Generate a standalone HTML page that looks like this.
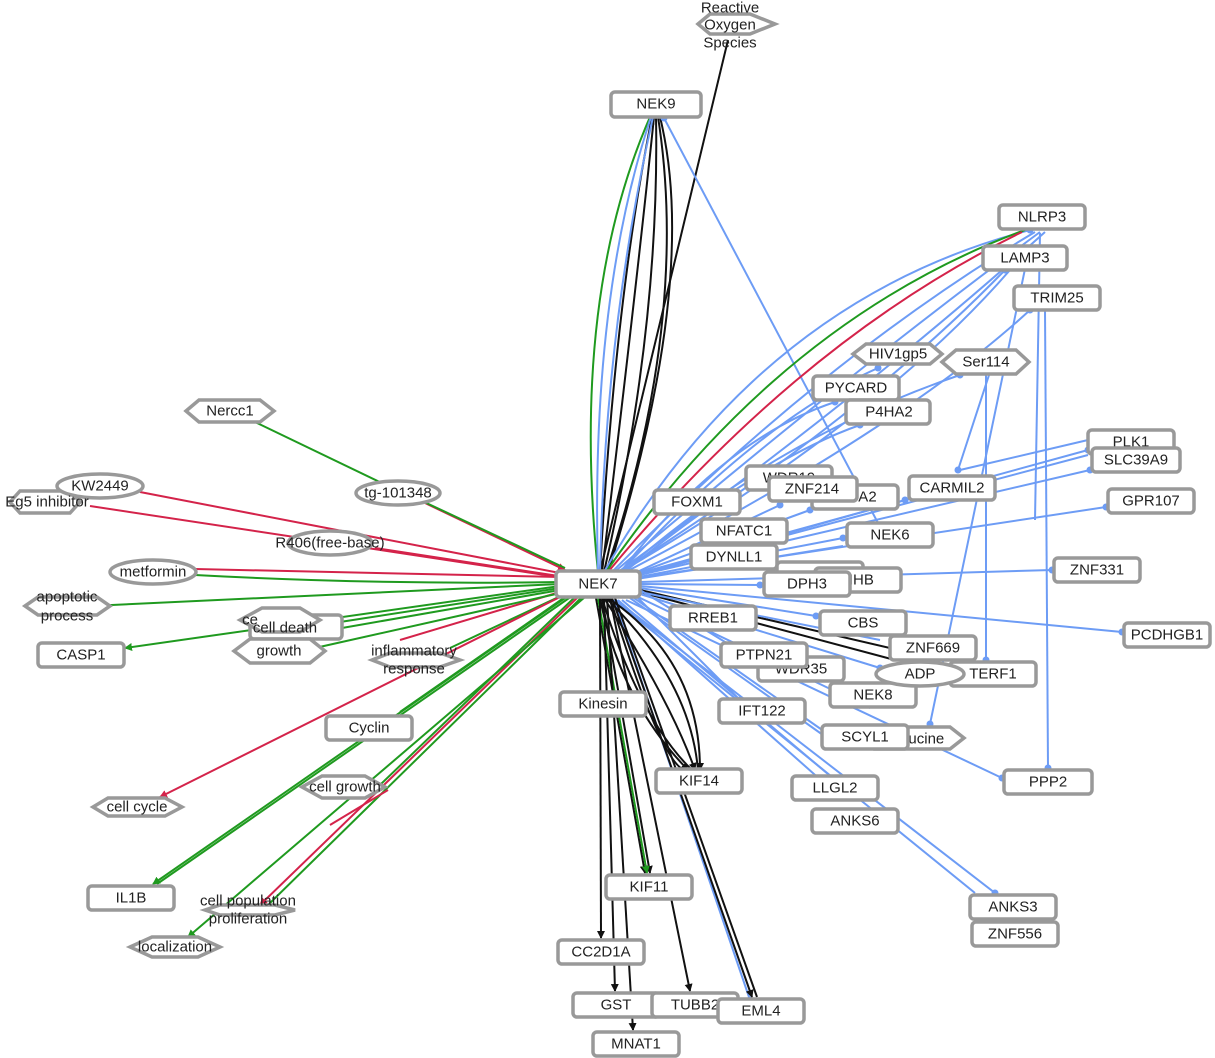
<!DOCTYPE html>
<html><head><meta charset="utf-8"><style>
body{margin:0;background:#fff}
svg{display:block}
text{font-family:"Liberation Sans",sans-serif;font-size:15px;fill:#222;text-anchor:middle;dominant-baseline:central}
.n{fill:#fff;stroke:#999;stroke-width:3.5}
.b{stroke:#6d9cf5;stroke-width:2;fill:none}
.g{stroke:#1f9a1f;stroke-width:2;fill:none}
.r{stroke:#d4234a;stroke-width:2;fill:none}
.k{stroke:#111;stroke-width:2;fill:none}
</style></head><body>
<svg width="1215" height="1058" viewBox="0 0 1215 1058" xmlns="http://www.w3.org/2000/svg">
<defs>
<marker id="ak" markerWidth="8" markerHeight="8" refX="7" refY="4" orient="auto" markerUnits="userSpaceOnUse"><path d="M0,0 L8,4 L0,8z" fill="#111"/></marker>
<marker id="ag" markerWidth="8" markerHeight="8" refX="7" refY="4" orient="auto" markerUnits="userSpaceOnUse"><path d="M0,0 L8,4 L0,8z" fill="#1f9a1f"/></marker>
<marker id="ar" markerWidth="8" markerHeight="8" refX="7" refY="4" orient="auto" markerUnits="userSpaceOnUse"><path d="M0,0 L8,4 L0,8z" fill="#d4234a"/></marker>
<marker id="db" markerWidth="8" markerHeight="8" refX="4" refY="4" markerUnits="userSpaceOnUse"><circle cx="4" cy="4" r="3.5" fill="#6d9cf5"/></marker>
</defs>

<!-- left side edges -->
<g>
<path class="g" d="M255,422 L390,487"/>
<path class="r" d="M140,492 L565,574" marker-end="url(#ar)"/>
<path class="r" d="M90,506 L565,578" marker-end="url(#ar)"/>
<path class="r" d="M375,548 L565,577"/>
<path class="r" d="M425,503 L565,570" marker-end="url(#ar)"/>
<path class="g" d="M420,500 L565,568"/>
<path class="r" d="M195,569 L560,577"/>
<path class="g" d="M195,575 Q380,585 560,582"/>
<path class="g" d="M560,584 L90,606" marker-end="url(#ag)"/>
<path class="g" d="M560,586 L125,648" marker-end="url(#ag)"/>
<path class="g" d="M560,588 L340,622"/>
<path class="g" d="M560,590 L342,628"/>
<path class="r" d="M560,592 L400,640"/>
<path class="g" d="M565,592 L315,648"/>
<path class="g" d="M565,594 L450,648"/>
<path class="g" d="M568,595 L400,712"/>
<path class="r" d="M566,594 L160,797" marker-end="url(#ar)"/>
<path class="g" d="M568,596 L153,884" marker-end="url(#ag)"/>
<path class="g" d="M572,596 L157,884"/>
<path class="g" d="M575,597 L380,785"/>
<path class="r" d="M578,597 L260,905" marker-end="url(#ar)"/>
<path class="g" d="M582,597 L268,905"/>
<path class="g" d="M585,597 L188,937" marker-end="url(#ag)"/>
<path class="r" d="M388,790 L330,825"/>
</g>

<!-- top edges -->
<g>
<path class="k" d="M600,572 L728,40"/>
<path class="k" d="M600,572 Q615,300 652,117" marker-end="url(#ak)"/>
<path class="k" d="M602,572 Q635,300 654,117"/>
<path class="k" d="M604,572 Q660,330 656,117"/>
<path class="k" d="M606,572 Q690,320 658,117"/>
<path class="k" d="M608,572 Q700,280 660,117"/>
<path class="g" d="M598,572 Q570,300 650,117"/>
<path class="b" d="M598,572 Q590,300 651,117"/>
<path class="b" d="M600,572 Q605,330 653,117"/>
<path class="b" d="M664,118 L878,523" marker-start="url(#db)"/>
</g>

<!-- right fan -->
<g>
<path class="b" d="M604,572 Q760,300 1030,230" marker-end="url(#db)"/>
<path class="g" d="M606,572 Q780,320 1025,230"/>
<path class="r" d="M608,572 Q800,340 1022,232"/>
<path class="b" d="M610,574 Q820,360 1035,232"/>
<path class="b" d="M612,574 Q840,380 1040,232"/>
<path class="b" d="M614,575 Q870,390 1045,232"/>
<path class="b" d="M614,576 Q860,420 1005,270" marker-end="url(#db)"/>
<path class="b" d="M614,576 Q880,420 1010,270"/>
<path class="b" d="M616,577 Q900,430 1030,310" marker-end="url(#db)"/>
<path class="b" d="M616,577 Q760,420 878,368" marker-end="url(#db)"/>
<path class="b" d="M616,578 Q770,440 960,375" marker-end="url(#db)"/>
<path class="b" d="M616,578 Q720,440 835,402" marker-end="url(#db)"/>
<path class="b" d="M616,579 Q760,460 860,425" marker-end="url(#db)"/>
<path class="b" d="M618,579 L1088,450" marker-end="url(#db)"/>
<path class="b" d="M618,580 L1088,455"/>
<path class="b" d="M618,580 L1090,470" marker-end="url(#db)"/>
<path class="b" d="M618,581 L1106,507" marker-end="url(#db)"/>
<path class="b" d="M618,580 L810,510" marker-end="url(#db)"/>
<path class="b" d="M618,581 L780,505" marker-end="url(#db)"/>
<path class="b" d="M618,581 L905,500" marker-end="url(#db)"/>
<path class="b" d="M618,581 L843,538" marker-end="url(#db)"/>
<path class="b" d="M618,582 L843,546"/>
<path class="b" d="M640,582 L1052,570" marker-end="url(#db)"/>
<path class="b" d="M640,584 L760,585" marker-end="url(#db)"/>
<path class="b" d="M640,586 L1122,632" marker-end="url(#db)"/>
<path class="b" d="M640,588 L816,616" marker-end="url(#db)"/>
<path class="k" d="M640,590 L890,648"/>
<path class="k" d="M640,592 L895,660"/>
<path class="b" d="M640,592 L880,640"/>
<path class="b" d="M640,594 L880,668" marker-end="url(#db)"/>
<path class="b" d="M636,596 L870,708"/>
<path class="b" d="M634,598 L825,732" marker-end="url(#db)"/>
<path class="b" d="M630,598 L830,740"/>
<path class="b" d="M626,600 L1002,778" marker-end="url(#db)"/>
<path class="b" d="M622,600 L835,780" marker-end="url(#db)"/>
<path class="b" d="M618,600 L832,790"/>
<path class="b" d="M616,600 L995,893" marker-end="url(#db)"/>
<path class="b" d="M614,600 L975,893"/>
<path class="b" d="M614,600 L750,1000" marker-end="url(#db)"/>
<path class="b" d="M636,596 L740,700" marker-end="url(#db)"/>
<path class="b" d="M640,590 L730,645" marker-end="url(#db)"/>
<!-- verticals -->
<path class="b" d="M1045,310 L1048,768" marker-end="url(#db)"/>
<path class="b" d="M986,375 L986,660" marker-end="url(#db)"/>
<path class="b" d="M990,372 L958,470" marker-end="url(#db)"/>
<path class="b" d="M1030,245 L930,724" marker-end="url(#db)"/>
<path class="b" d="M1040,233 L1035,520"/>
<path class="b" d="M960,470 L1088,440"/>
</g>

<!-- bottom edges -->
<g>
<path class="k" d="M600,598 Q620,700 688,770" marker-end="url(#ak)"/>
<path class="k" d="M602,598 Q640,720 692,770"/>
<path class="k" d="M604,598 Q670,700 695,770" marker-end="url(#ak)"/>
<path class="k" d="M606,598 Q690,680 698,770"/>
<path class="k" d="M608,598 Q700,660 700,770" marker-end="url(#ak)"/>
<path class="k" d="M610,598 Q660,760 684,770"/>
<path class="k" d="M596,598 L645,873" marker-end="url(#ak)"/>
<path class="k" d="M602,598 L650,873" marker-end="url(#ak)"/>
<path class="g" d="M598,598 L647,873" marker-end="url(#ag)"/>
<path class="k" d="M600,598 L601,938" marker-end="url(#ak)"/>
<path class="k" d="M604,598 L615,991" marker-end="url(#ak)"/>
<path class="k" d="M607,598 L633,1030" marker-end="url(#ak)"/>
<path class="k" d="M610,598 L690,991" marker-end="url(#ak)"/>
<path class="k" d="M612,598 L752,997" marker-end="url(#ak)"/>
<path class="k" d="M615,598 L757,997"/>
</g>

<!-- nodes -->
<g>
<polygon class="n" points="698,24 710,14 750,14 775,24 750,34 710,34"/>
<text x="730" y="8">Reactive</text><text x="730" y="25">Oxygen</text><text x="730" y="43">Species</text>

<rect class="n" x="611" y="92" width="90" height="25" rx="4"/><text x="656" y="104">NEK9</text>
<rect class="n" x="999" y="205" width="86" height="24" rx="4"/><text x="1042" y="217">NLRP3</text>
<rect class="n" x="983" y="246" width="84" height="24" rx="4"/><text x="1025" y="258">LAMP3</text>
<rect class="n" x="1014" y="286" width="86" height="24" rx="4"/><text x="1057" y="298">TRIM25</text>
<polygon class="n" points="853,354 866,344 930,344 942,354 930,364 866,364"/><text x="898" y="354">HIV1gp5</text>
<polygon class="n" points="942,362 956,350 1016,350 1029,362 1016,374 956,374"/><text x="986" y="362">Ser114</text>
<rect class="n" x="813" y="376" width="86" height="24" rx="4"/><text x="856" y="388">PYCARD</text>
<rect class="n" x="846" y="400" width="84" height="24" rx="4"/><text x="889" y="412">P4HA2</text>
<rect class="n" x="1088" y="430" width="86" height="24" rx="4"/><text x="1131" y="442">PLK1</text>
<rect class="n" x="1092" y="448" width="88" height="24" rx="4"/><text x="1136" y="460">SLC39A9</text>
<rect class="n" x="1108" y="489" width="86" height="24" rx="4"/><text x="1151" y="501">GPR107</text>
<rect class="n" x="746" y="466" width="86" height="24" rx="4"/><text x="789" y="478">WDR19</text>
<rect class="n" x="812" y="485" width="86" height="24" rx="4"/><text x="855" y="497">ITGA2</text>
<rect class="n" x="769" y="477" width="88" height="24" rx="4"/><text x="812" y="489">ZNF214</text>
<rect class="n" x="909" y="476" width="86" height="24" rx="4"/><text x="952" y="488">CARMIL2</text>
<rect class="n" x="654" y="490" width="86" height="24" rx="4"/><text x="697" y="502">FOXM1</text>
<rect class="n" x="701" y="519" width="86" height="24" rx="4"/><text x="744" y="531">NFATC1</text>
<rect class="n" x="847" y="523" width="86" height="24" rx="4"/><text x="890" y="535">NEK6</text>
<rect class="n" x="691" y="545" width="86" height="24" rx="4"/><text x="734" y="557">DYNLL1</text>
<rect class="n" x="777" y="562" width="86" height="20" rx="4"/>
<rect class="n" x="815" y="568" width="86" height="24" rx="4"/><text x="858" y="580">HHB</text>
<rect class="n" x="764" y="572" width="86" height="24" rx="4"/><text x="807" y="584">DPH3</text>
<rect class="n" x="1054" y="558" width="86" height="24" rx="4"/><text x="1097" y="570">ZNF331</text>
<rect class="n" x="556" y="571" width="84" height="26" rx="4"/><text x="598" y="584">NEK7</text>
<rect class="n" x="670" y="606" width="86" height="24" rx="4"/><text x="713" y="618">RREB1</text>
<rect class="n" x="820" y="611" width="86" height="24" rx="4"/><text x="863" y="623">CBS</text>
<rect class="n" x="1124" y="623" width="86" height="24" rx="4"/><text x="1167" y="635">PCDHGB1</text>
<rect class="n" x="950" y="662" width="86" height="24" rx="4"/><text x="993" y="674">TERF1</text>
<rect class="n" x="890" y="636" width="86" height="24" rx="4"/><text x="933" y="648">ZNF669</text>
<rect class="n" x="758" y="657" width="86" height="24" rx="4"/><text x="801" y="669">WDR35</text>
<rect class="n" x="721" y="643" width="86" height="24" rx="4"/><text x="764" y="655">PTPN21</text>
<rect class="n" x="830" y="683" width="86" height="24" rx="4"/><text x="873" y="695">NEK8</text>
<ellipse class="n" cx="920" cy="674" rx="44" ry="12"/><text x="920" y="674">ADP</text>
<rect class="n" x="719" y="699" width="86" height="24" rx="4"/><text x="762" y="711">IFT122</text>
<polygon class="n" points="875,738 875,727 950,727 964,738 950,749 875,749"/><text x="918" y="739">Leucine</text>
<rect class="n" x="822" y="725" width="86" height="24" rx="4"/><text x="865" y="737">SCYL1</text>
<rect class="n" x="1004" y="770" width="88" height="24" rx="4"/><text x="1048" y="782">PPP2</text>
<rect class="n" x="792" y="776" width="86" height="24" rx="4"/><text x="835" y="788">LLGL2</text>
<rect class="n" x="812" y="809" width="86" height="24" rx="4"/><text x="855" y="821">ANKS6</text>
<rect class="n" x="970" y="895" width="86" height="24" rx="4"/><text x="1013" y="907">ANKS3</text>
<rect class="n" x="972" y="922" width="86" height="24" rx="4"/><text x="1015" y="934">ZNF556</text>
<rect class="n" x="560" y="692" width="86" height="24" rx="4"/><text x="603" y="704">Kinesin</text>
<rect class="n" x="656" y="769" width="86" height="24" rx="4"/><text x="699" y="781">KIF14</text>
<rect class="n" x="606" y="875" width="86" height="24" rx="4"/><text x="649" y="887">KIF11</text>
<rect class="n" x="558" y="940" width="86" height="24" rx="4"/><text x="601" y="952">CC2D1A</text>
<rect class="n" x="573" y="993" width="86" height="24" rx="4"/><text x="616" y="1005">GST</text>
<rect class="n" x="652" y="993" width="86" height="24" rx="4"/><text x="695" y="1005">TUBB2</text>
<rect class="n" x="718" y="999" width="86" height="24" rx="4"/><text x="761" y="1011">EML4</text>
<rect class="n" x="593" y="1032" width="86" height="24" rx="4"/><text x="636" y="1044">MNAT1</text>

<polygon class="n" points="186,411 199,400 260,400 274,411 260,422 199,422"/><text x="230" y="411">Nercc1</text>
<polygon class="n" points="10,502 20,491 70,491 80,502 70,513 20,513"/>
<ellipse class="n" cx="100" cy="486" rx="43" ry="12"/><text x="100" y="486">KW2449</text>
<text x="47" y="502">Eg5 inhibitor</text>
<ellipse class="n" cx="398" cy="493" rx="42" ry="12"/><text x="398" y="493">tg-101348</text>
<ellipse class="n" cx="330" cy="543" rx="42" ry="12"/><text x="330" y="543">R406(free-base)</text>
<ellipse class="n" cx="153" cy="572" rx="43" ry="12"/><text x="153" y="572">metformin</text>
<polygon class="n" points="25,606 38,597 97,597 110,606 97,615 38,615"/>
<text x="67" y="597">apoptotic</text><text x="67" y="616">process</text>
<rect class="n" x="250" y="615" width="92" height="24" rx="4"/>
<polygon class="n" points="240,620 262,608 300,608 320,620 300,632 262,632"/>
<text x="250" y="620">ce</text>
<text x="285" y="628">cell death</text>
<polygon class="n" points="234,651 250,639 310,639 325,651 310,663 250,663"/><text x="279" y="651">growth</text>
<rect class="n" x="38" y="643" width="86" height="24" rx="4"/><text x="81" y="655">CASP1</text>
<polygon class="n" points="372,660 390,653 440,653 460,660 440,667 390,667"/>
<text x="414" y="651">inflammatory</text><text x="414" y="669">response</text>
<rect class="n" x="326" y="716" width="86" height="24" rx="4"/><text x="369" y="728">Cyclin</text>
<polygon class="n" points="93,807 108,798 165,798 182,807 165,816 108,816"/><text x="137" y="807">cell cycle</text>
<polygon class="n" points="302,787 322,776 365,776 385,787 365,798 322,798"/><text x="345" y="787">cell growth</text>
<rect class="n" x="88" y="886" width="86" height="24" rx="4"/><text x="131" y="898">IL1B</text>
<polygon class="n" points="205,910 220,905 275,905 295,910 275,915 220,915"/>
<text x="248" y="901">cell population</text><text x="248" y="919">proliferation</text>
<polygon class="n" points="130,947 152,937 198,937 220,947 198,957 152,957"/><text x="175" y="947">localization</text>
</g>
</svg>
</body></html>
